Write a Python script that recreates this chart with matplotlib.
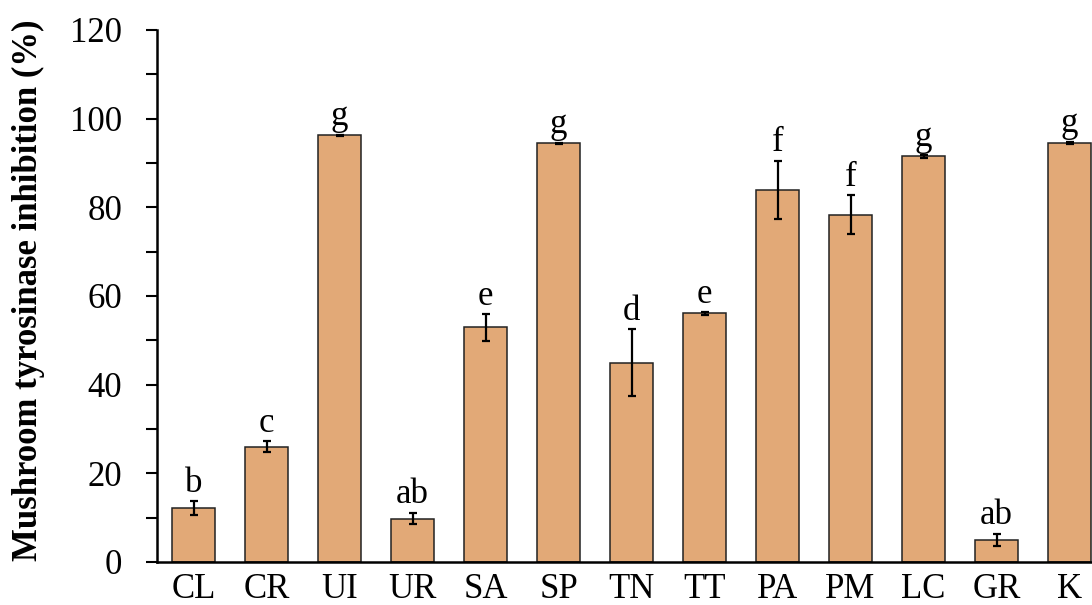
import matplotlib.pyplot as plt
import numpy as np

# sample codes and measured inhibition (mean, sd)
samples = ['CL', 'CR', 'UI', 'UR', 'SA', 'SP', 'TN', 'TT', 'PA', 'PM', 'LC', 'GR', 'K']
inhibition = [12.2, 26.0, 96.3, 9.8, 52.9, 94.4, 45.0, 56.1, 83.9, 78.3, 91.5, 5.0, 94.5]
sd = [1.5, 1.2, 0.1, 1.3, 3.0, 0.2, 7.5, 0.3, 6.6, 4.4, 0.3, 1.35, 0.3]
letters = ['b', 'c', 'g', 'ab', 'e', 'g', 'd', 'e', 'f', 'f', 'g', 'ab', 'g']

plt.rcParams['font.family'] = ['Liberation Serif', 'DejaVu Serif']

fig = plt.figure(figsize=(10.92, 6.05), dpi=100)
ax = fig.add_axes([157 / 1092, 43 / 605, 949 / 1092, 532 / 605])

x = np.arange(len(samples))
ax.bar(x, inhibition, width=0.59, color='#E2A977', edgecolor='#222222', linewidth=1.1,
       yerr=sd, error_kw=dict(ecolor='black', elinewidth=1.6, capsize=3, capthick=1.6))

# significance letters above error bars
for xi, v, e, lab in zip(x, inhibition, sd, letters):
    ax.annotate(lab, (xi, v + e), xytext=(0, 1), textcoords='offset points',
                ha='center', va='bottom', fontsize=25)

ax.set_xlim(-0.5, 12.5)
ax.set_ylim(0, 120)
ax.set_yticks(np.arange(0, 121, 20))
ax.set_yticks(np.arange(10, 120, 20), minor=True)
ax.set_xticks(x)
ax.set_xticklabels(samples)
ax.tick_params(axis='y', which='both', direction='out', length=8, width=1.5, labelsize=25, pad=17)
ax.tick_params(axis='x', length=0, labelsize=25, pad=8)
ax.spines['top'].set_visible(False)
ax.spines['right'].set_visible(False)
ax.spines['left'].set_linewidth(1.8)
ax.spines['bottom'].set_linewidth(1.8)
ax.set_ylabel('Mushroom tyrosinase inhibition (%)', fontsize=25, fontweight='bold')
ax.yaxis.set_label_coords(-0.118, 0.511)

fig.savefig('out.png', dpi=100)
